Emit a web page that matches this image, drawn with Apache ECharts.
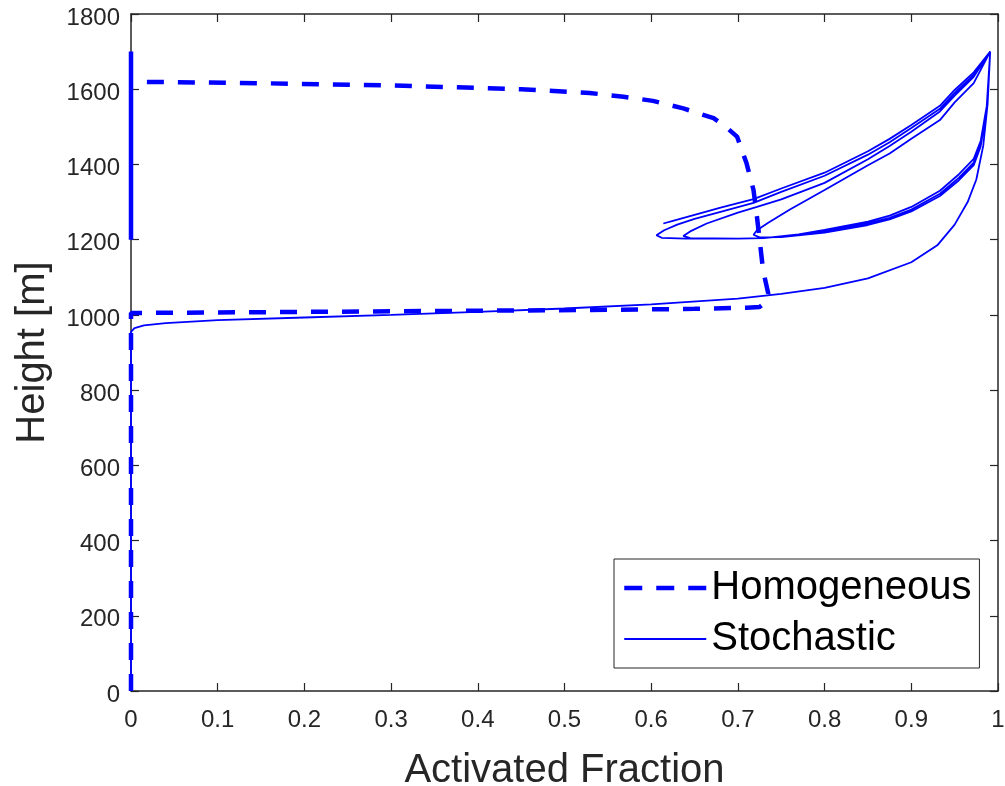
<!DOCTYPE html>
<html>
<head>
<meta charset="utf-8">
<script src="https://cdn.jsdelivr.net/npm/echarts@6/dist/echarts.min.js"></script>
<style>
  html, body { margin: 0; padding: 0; background: #ffffff; }
  #chart { width: 1005px; height: 786px; }
</style>
</head>
<body>
<div id="chart"></div>
<script>
// ---------- data ----------
const xTickLabels = ['0', '0.1', '0.2', '0.3', '0.4', '0.5', '0.6', '0.7', '0.8', '0.9', '1'];
const yTickLabels = ['0', '200', '400', '600', '800', '1000', '1200', '1400', '1600', '1800'];

// Homogeneous profile [activated fraction, height m]
const homogeneous = [
  [0, 0], [0, 1005], [0.2, 1008], [0.4, 1011], [0.53, 1013], [0.65, 1016], [0.71, 1019],
  [0.725, 1021], [0.733, 1035], [0.735, 1057], [0.729, 1119], [0.726, 1181], [0.722, 1260],
  [0.718, 1332], [0.71, 1403], [0.699, 1474], [0.685, 1502], [0.672, 1523], [0.637, 1549],
  [0.602, 1569], [0.568, 1580], [0.529, 1590], [0.45, 1600], [0.3, 1610], [0.15, 1616], [0, 1620]
];

// Stochastic parcel: first ascent from the ground
const stoAscent0 = [
  [0, 0], [0, 955], [0.004, 965], [0.015, 972], [0.04, 978], [0.1, 986], [0.2, 993], [0.3, 1000],
  [0.4, 1008], [0.5, 1017], [0.6, 1028], [0.7, 1043], [0.75, 1056], [0.8, 1072], [0.85, 1097],
  [0.9, 1140], [0.93, 1185], [0.95, 1240], [0.965, 1300], [0.975, 1360], [0.983, 1450],
  [0.988, 1560], [0.991, 1700]
];
// descents from cloud top
const stoDescent1 = [
  [0.991, 1700], [0.972, 1638], [0.95, 1590], [0.933, 1548], [0.9, 1497], [0.875, 1459],
  [0.85, 1426], [0.8, 1370], [0.75, 1327], [0.718, 1298], [0.68, 1274], [0.65, 1255],
  [0.63, 1240], [0.615, 1225], [0.606, 1212], [0.612, 1205], [0.64, 1203], [0.7, 1203], [0.73, 1204]
];
const stoDescent2 = [
  [0.991, 1700], [0.972, 1633], [0.95, 1583], [0.933, 1541], [0.9, 1487], [0.875, 1449],
  [0.85, 1414], [0.8, 1351], [0.75, 1307], [0.722, 1287], [0.7, 1272], [0.664, 1243],
  [0.645, 1222], [0.637, 1210], [0.645, 1204], [0.7, 1203], [0.73, 1204]
];
const stoDescent3 = [
  [0.991, 1700], [0.972, 1616], [0.95, 1565], [0.933, 1518], [0.9, 1468], [0.875, 1429],
  [0.85, 1398], [0.8, 1332], [0.76, 1280], [0.735, 1245], [0.722, 1225], [0.718, 1213],
  [0.725, 1206], [0.75, 1207]
];
const stoDescent4 = [
  [0.991, 1700], [0.972, 1645], [0.95, 1598], [0.933, 1556], [0.9, 1505], [0.875, 1468],
  [0.85, 1435], [0.8, 1378], [0.75, 1336], [0.718, 1308], [0.68, 1285], [0.65, 1266],
  [0.625, 1250], [0.614, 1243]
];
// re-ascents along the lower branch
const stoAscent1 = [
  [0.73, 1204], [0.77, 1212], [0.8, 1222], [0.85, 1243], [0.875, 1258], [0.9, 1280],
  [0.933, 1322], [0.955, 1365], [0.972, 1405], [0.98, 1455], [0.987, 1550], [0.991, 1700]
];
const stoAscent2 = [
  [0.73, 1204], [0.77, 1214], [0.8, 1226], [0.85, 1248], [0.875, 1264], [0.9, 1287],
  [0.933, 1330], [0.955, 1374], [0.972, 1415], [0.98, 1462], [0.987, 1555], [0.991, 1700]
];
const stoAscent3 = [
  [0.75, 1207], [0.8, 1219], [0.85, 1239], [0.875, 1254], [0.9, 1275],
  [0.933, 1316], [0.955, 1358], [0.972, 1398], [0.98, 1448], [0.987, 1545], [0.991, 1700]
];
// parcels staying unactivated near the left edge (several overlapping traces)
const stoEdge = [[0, 1700], [0, 1200]];

// ---------- chart ----------
const BLUE = '#0000ff';
const AX = '#262626';
const FONT = "'Liberation Sans', Arial, Helvetica, sans-serif";

const stochasticPath = [].concat(
  stoAscent0, stoDescent1.slice(1), stoAscent1.slice(1), stoDescent2.slice(1),
  stoAscent2.slice(1), stoDescent3.slice(1), stoAscent3.slice(1), stoDescent4.slice(1)
);

function stoSeries(data, width) {
  return {
    name: 'Stochastic', type: 'line', data: data, symbol: 'none', showSymbol: false, smooth: false,
    xAxisIndex: 0, yAxisIndex: 0, clip: false, z: 3,
    lineStyle: { color: BLUE, width: width, type: 'solid' }, itemStyle: { color: BLUE }
  };
}

const mainAxisCommon = {
  axisLine: { show: true, onZero: false, lineStyle: { color: AX, width: 1.5 } },
  axisTick: { show: true, inside: true, length: 8, lineStyle: { color: AX, width: 1.2 } },
  splitLine: { show: false }
};

const chart = echarts.init(document.getElementById('chart'), null, { renderer: 'canvas' });
chart.setOption({
  animation: false,
  backgroundColor: '#ffffff',
  textStyle: { fontFamily: FONT },
  grid: { left: 131, right: 7, top: 14, bottom: 95, containLabel: false, outerBoundsMode: 'none' },
  xAxis: [
    Object.assign({
      type: 'value', position: 'bottom', min: 0, max: 1, interval: 0.1,
      name: 'Activated Fraction', nameLocation: 'middle', nameGap: 60,
      nameTextStyle: { fontSize: 40, color: AX, fontFamily: FONT },
      axisLabel: {
        fontSize: 24, color: AX, margin: 17, fontFamily: FONT,
        formatter: function (v) { return xTickLabels[Math.round(v * 10)]; }
      }
    }, mainAxisCommon),
    Object.assign({
      type: 'value', position: 'top', min: 0, max: 1, interval: 0.1,
      axisLabel: { show: false }
    }, mainAxisCommon)
  ],
  yAxis: [
    Object.assign({
      type: 'value', position: 'left', min: 0, max: 1800, interval: 200,
      name: 'Height [m]', nameLocation: 'middle', nameGap: 78,
      nameTextStyle: { fontSize: 40, color: AX, fontFamily: FONT },
      axisLabel: {
        fontSize: 24, color: AX, margin: 11, fontFamily: FONT,
        formatter: function (v) { return '{t|' + yTickLabels[Math.round(v / 200)] + '}'; },
        rich: { t: { fontSize: 24, color: AX, fontFamily: FONT, padding: [8, 0, 0, 0] } }
      }
    }, mainAxisCommon),
    Object.assign({
      type: 'value', position: 'right', min: 0, max: 1800, interval: 200,
      axisLabel: { show: false }
    }, mainAxisCommon)
  ],
  legend: {
    data: [
      { name: 'Homogeneous', lineStyle: { color: BLUE, width: 4.5, type: [18, 14] } },
      { name: 'Stochastic', lineStyle: { color: BLUE, width: 1.8, type: 'solid' } }
    ],
    orient: 'vertical', left: 614, top: 559,
    padding: [9, 8, 9, 8], itemGap: 11, itemWidth: 82, itemHeight: 2,
    itemStyle: { opacity: 0, borderWidth: 0 },
    backgroundColor: '#ffffff', borderColor: AX, borderWidth: 1, borderRadius: 0,
    textStyle: { fontSize: 40, color: '#000000', fontFamily: FONT },
    selectedMode: false
  },
  series: [
    {
      name: 'Homogeneous', type: 'line', data: homogeneous, symbol: 'none', showSymbol: false,
      smooth: false, xAxisIndex: 0, yAxisIndex: 0, z: 4, clip: false,
      lineStyle: { color: BLUE, width: 4.5, type: [17, 14] }, itemStyle: { color: BLUE }
    },
    stoSeries(stochasticPath, 1.8),
    stoSeries(stoEdge, 4.5)
  ]
});
</script>
</body>
</html>
